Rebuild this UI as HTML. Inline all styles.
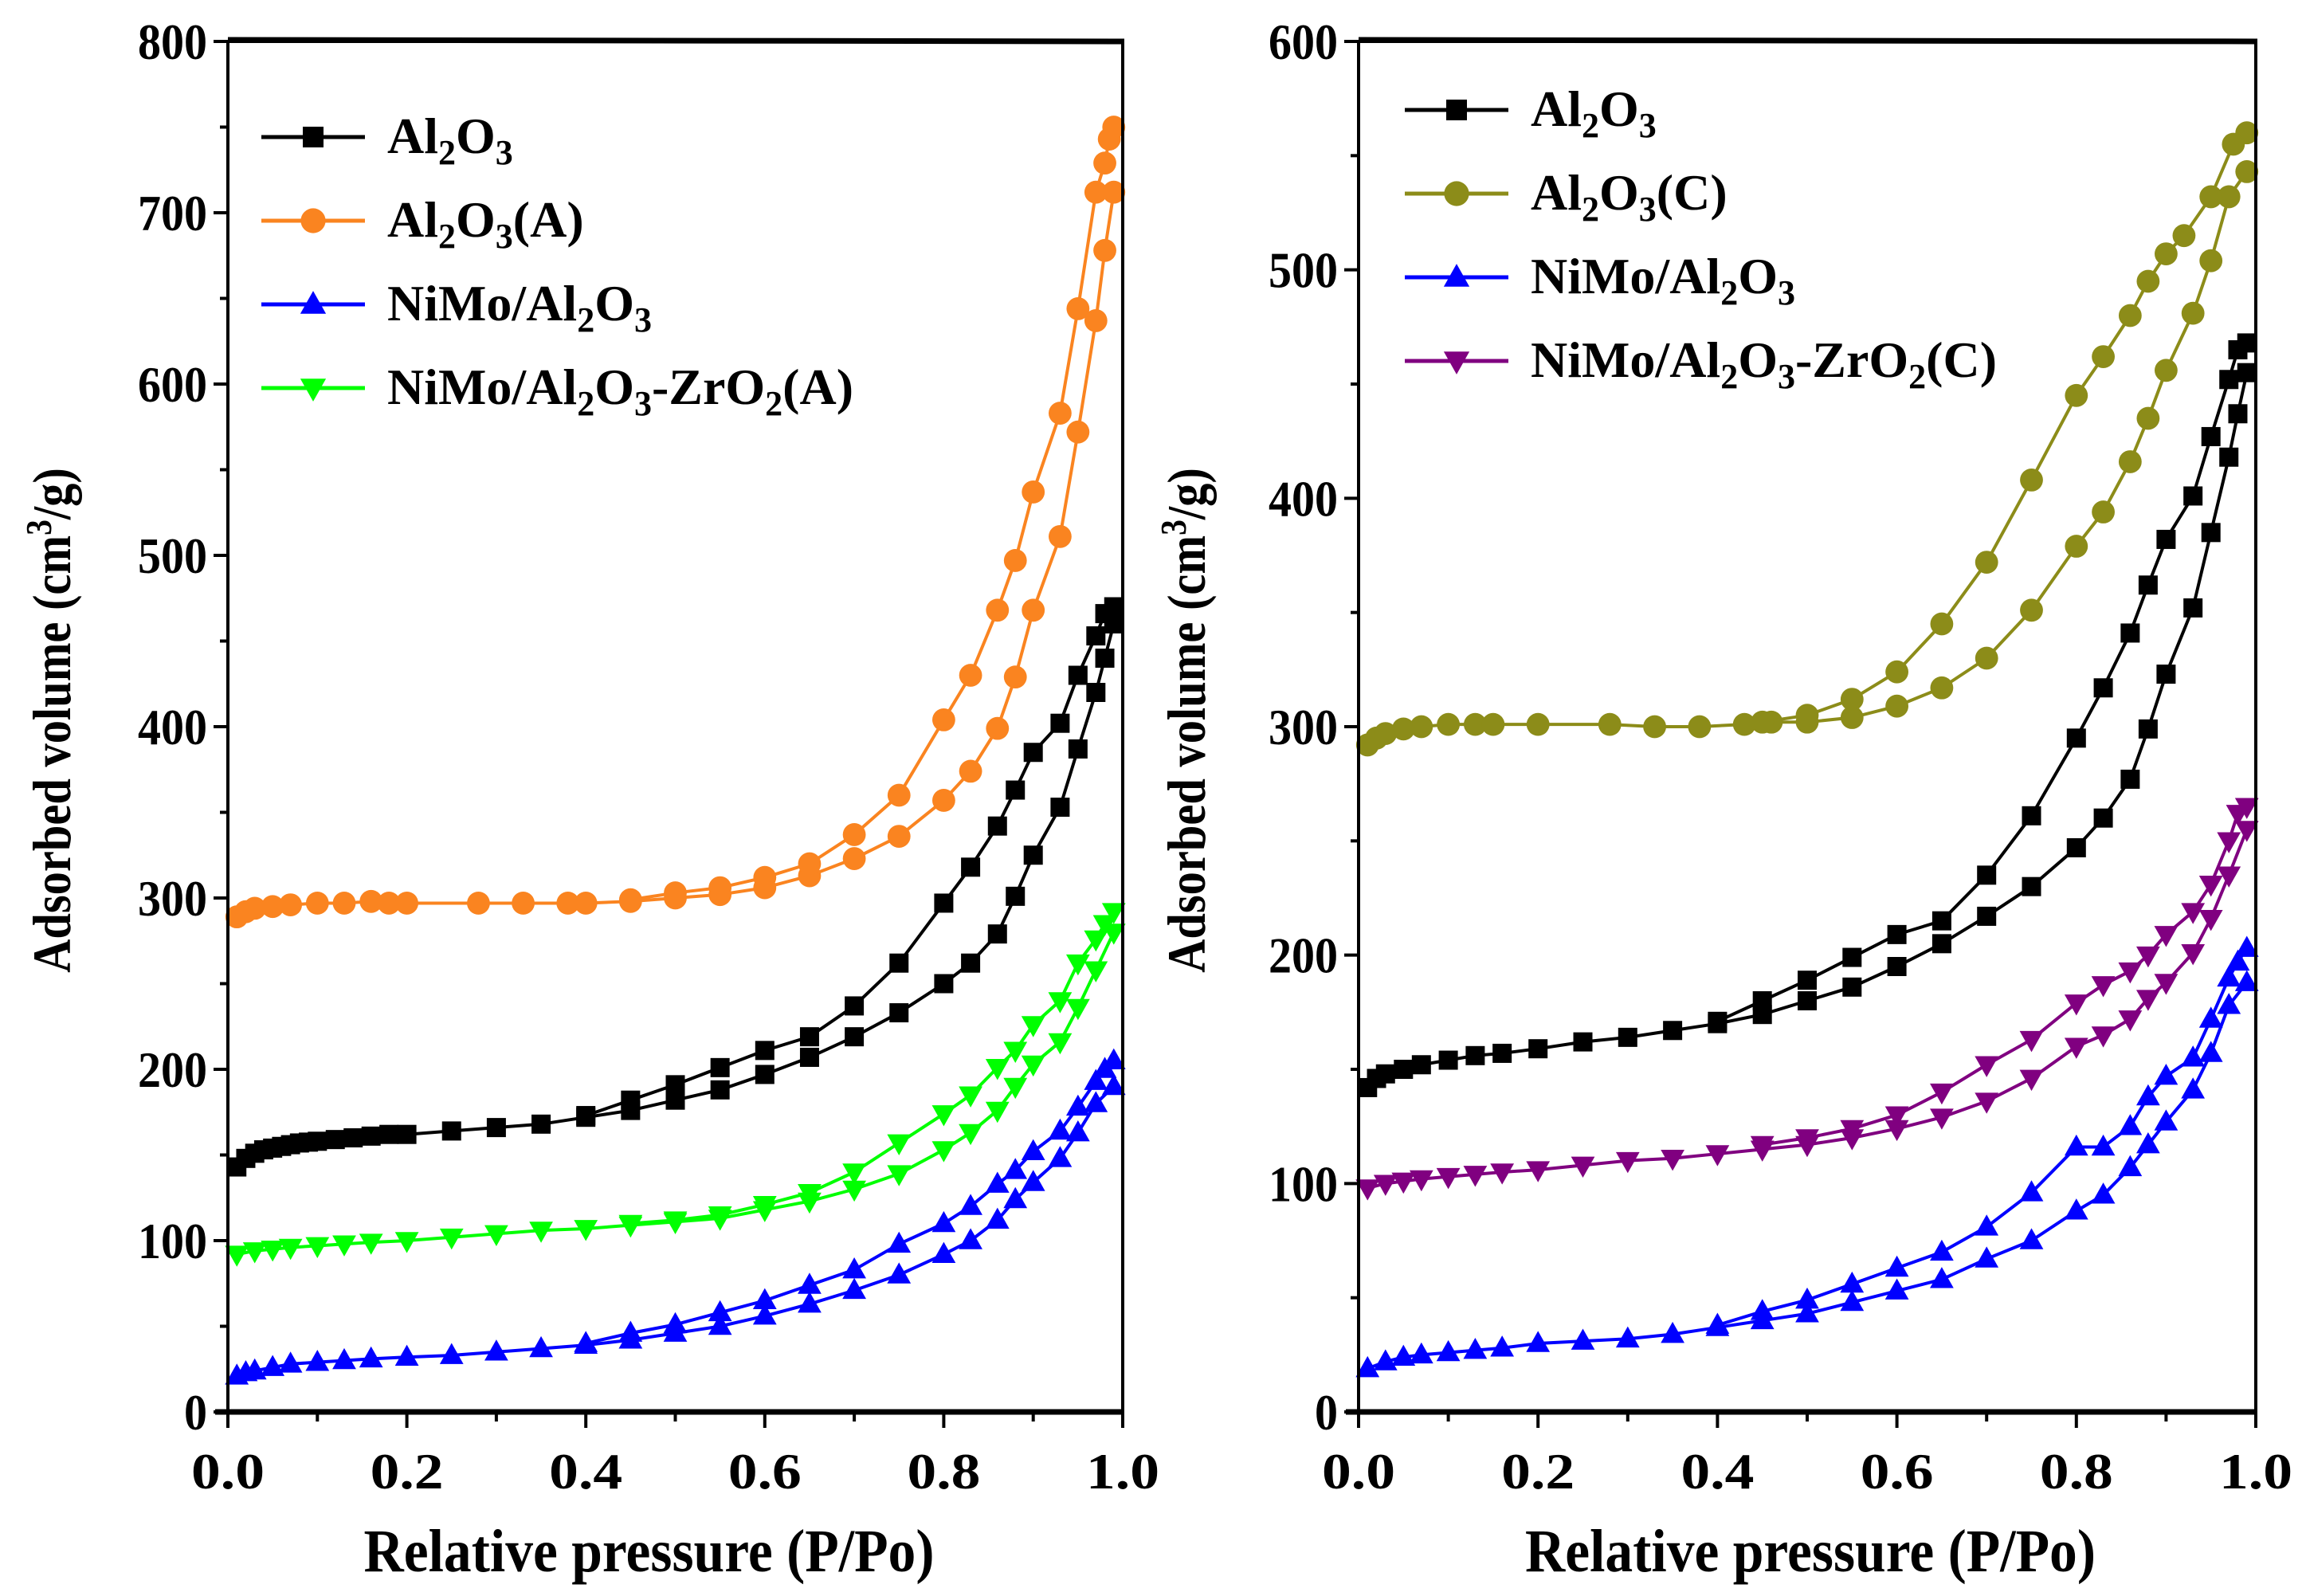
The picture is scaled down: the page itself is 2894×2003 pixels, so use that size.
<!DOCTYPE html>
<html><head><meta charset="utf-8">
<style>
html,body{margin:0;padding:0;background:#fff;}
svg{display:block;font-family:"Liberation Serif","DejaVu Serif",serif;font-weight:bold;}
</style></head>
<body>
<svg id="chart" width="2894" height="2003" viewBox="0 0 2894 2003" xmlns="http://www.w3.org/2000/svg"></svg>
<script>
// ---- Data: panel A ----
const aBlackAdsX=[0.01,0.02,0.03,0.04,0.05,0.06,0.07,0.08,0.09,0.1,0.12,0.14,0.16,0.18,0.2,0.25,0.3,0.35,0.4,0.45,0.5,0.55,0.6,0.65,0.7,0.75,0.8,0.83,0.86,0.88,0.9,0.93,0.95,0.97,0.98,0.99];
const aBlackAdsY=[143,148,151,153,154,155,156,157,157.5,158,159,160,161,162,162,164,166,168,172,176,182,188,197,207,219,233,250,262,279,301,325,353,387,420,440,460];
const aBlackDesX=[0.99,0.98,0.97,0.95,0.93,0.9,0.88,0.86,0.83,0.8,0.75,0.7,0.65,0.6,0.55,0.5,0.45,0.4];
const aBlackDesY=[470,466,453,430,402,385,363,342,318,297,262,237,219,211,201,191,182,173];
const aOrangeAdsX=[0.01,0.02,0.03,0.05,0.07,0.1,0.13,0.16,0.18,0.2,0.28,0.33,0.38,0.4,0.45,0.5,0.55,0.6,0.65,0.7,0.75,0.8,0.83,0.86,0.88,0.9,0.93,0.95,0.97,0.98,0.99];
const aOrangeAdsY=[289,292,294,295,296,297,297,298,297,297,297,297,297,297,298,300,302,306,313,323,336,357,374,399,429,468,511,572,637,678,712];
const aOrangeDesX=[0.99,0.985,0.98,0.97,0.95,0.93,0.9,0.88,0.86,0.83,0.8,0.75,0.7,0.65,0.6,0.55,0.5,0.45];
const aOrangeDesY=[750,743,729,712,644,583,537,497,468,430,404,360,337,320,312,306,303,299];
const aBlueAdsX=[0.01,0.02,0.03,0.05,0.07,0.1,0.13,0.16,0.2,0.25,0.3,0.35,0.4,0.45,0.5,0.55,0.6,0.65,0.7,0.75,0.8,0.83,0.86,0.88,0.9,0.93,0.95,0.97,0.99];
const aBlueAdsY=[21,23,24,26,28,29,30,31,32,33,35,37,39,42,46,50,56,63,71,80,92,100,112,124,134,148,163,180,190];
const aBlueDesX=[0.99,0.98,0.97,0.95,0.93,0.9,0.88,0.86,0.83,0.8,0.75,0.7,0.65,0.6,0.55,0.5,0.45,0.4];
const aBlueDesY=[205,200,193,178,164,152,141,133,120,110,98,83,74,65,58,51,46,40];
const aGreenAdsX=[0.01,0.03,0.05,0.07,0.1,0.13,0.16,0.2,0.25,0.3,0.35,0.4,0.45,0.5,0.55,0.6,0.65,0.7,0.75,0.8,0.83,0.86,0.88,0.9,0.93,0.95,0.97,0.99];
const aGreenAdsY=[92,94,95,96,97,98,99,100,102,104,106,107,109,111,113,118,123,130,139,153,163,176,190,203,216,236,258,280];
const aGreenDesX=[0.99,0.98,0.97,0.95,0.93,0.9,0.88,0.86,0.83,0.8,0.75,0.7,0.65,0.6,0.55,0.5,0.45];
const aGreenDesY=[292,285,276,262,240,226,211,201,185,174,157,140,128,121,115,112,110];
// ---- Data: panel B ----
const bBlackAdsX=[0.01,0.02,0.03,0.05,0.07,0.1,0.13,0.16,0.2,0.25,0.3,0.35,0.4,0.45,0.5,0.55,0.6,0.65,0.7,0.75,0.8,0.83,0.86,0.88,0.9,0.93,0.95,0.97,0.98,0.99];
const bBlackAdsY=[142,146,148,150,152,154,156,157,159,162,164,167,170,174,180,186,195,205,217,230,247,260,277,299,323,352,385,418,437,455];
const bBlackDesX=[0.99,0.98,0.97,0.95,0.93,0.9,0.88,0.86,0.83,0.8,0.75,0.7,0.65,0.6,0.55,0.5,0.45,0.4];
const bBlackDesY=[468,465,452,427,401,382,362,341,317,295,261,235,215,209,199,189,180,171];
const bOliveAdsX=[0.01,0.02,0.03,0.05,0.07,0.1,0.13,0.15,0.2,0.28,0.33,0.38,0.43,0.46,0.5,0.55,0.6,0.65,0.7,0.75,0.8,0.83,0.86,0.88,0.9,0.93,0.95,0.97,0.99];
const bOliveAdsY=[292,295,297,299,300,301,301,301,301,301,300,300,301,302,302,304,309,317,330,351,379,394,416,435,456,481,504,532,543];
const bOliveDesX=[0.99,0.975,0.95,0.92,0.9,0.88,0.86,0.83,0.8,0.75,0.7,0.65,0.6,0.55,0.5,0.45];
const bOliveDesY=[560,555,532,515,507,495,480,462,445,408,372,345,324,312,305,302];
const bBlueAdsX=[0.01,0.03,0.05,0.07,0.1,0.13,0.16,0.2,0.25,0.3,0.35,0.4,0.45,0.5,0.55,0.6,0.65,0.7,0.75,0.8,0.83,0.86,0.88,0.9,0.93,0.95,0.97,0.99];
const bBlueAdsY=[19,22,24,25,26,27,28,30,31,32,34,37,40,43,48,53,58,67,75,88,95,107,117,127,141,157,178,188];
const bBlueDesX=[0.99,0.98,0.97,0.95,0.93,0.9,0.88,0.86,0.83,0.8,0.75,0.7,0.65,0.6,0.55,0.5,0.45,0.4];
const bBlueDesY=[203,197,190,172,155,147,138,125,116,116,96,81,70,63,56,49,44,38];
const bPurpleAdsX=[0.01,0.03,0.05,0.07,0.1,0.13,0.16,0.2,0.25,0.3,0.35,0.4,0.45,0.5,0.55,0.6,0.65,0.7,0.75,0.8,0.83,0.86,0.88,0.9,0.93,0.95,0.97,0.99];
const bPurpleAdsY=[98,100,101,102,103,104,105,106,108,110,111,113,115,117,120,124,129,136,146,160,165,172,181,188,201,216,235,255];
const bPurpleDesX=[0.99,0.98,0.97,0.95,0.93,0.9,0.88,0.86,0.83,0.8,0.75,0.7,0.65,0.6,0.55,0.5,0.45];
const bPurpleDesY=[265,262,250,231,219,209,200,193,187,179,163,152,140,130,124,120,117];
const xTicks=["0.0","0.2","0.4","0.6","0.8","1.0"];
const aYTicks=["0","100","200","300","400","500","600","700","800"];
const bYTicks=["0","100","200","300","400","500","600"];

const NS="http://www.w3.org/2000/svg";
const svg=document.getElementById('chart');
function el(tag,attrs,parent){const e=document.createElementNS(NS,tag);for(const k in attrs)e.setAttribute(k,attrs[k]);(parent||svg).appendChild(e);return e;}

function marker(g,type,cx,cy,color,s){
  let m;
  if(type==='square') m=el('rect',{x:cx-s/2,y:cy-s/2,width:s,height:s,fill:color},g);
  else if(type==='circle') m=el('circle',{cx:cx,cy:cy,r:s*0.6,fill:color},g);
  else if(type==='up') m=el('polygon',{points:`${cx},${cy-s*0.65} ${cx-s*0.62},${cy+s*0.45} ${cx+s*0.62},${cy+s*0.45}`,fill:color},g);
  else m=el('polygon',{points:`${cx},${cy+s*0.65} ${cx-s*0.62},${cy-s*0.45} ${cx+s*0.62},${cy-s*0.45}`,fill:color},g);
  
  
}

function panel(id,L,R,T,B,ymax,yTicks,series,legendX,legendY0,legendStep,titleX,xTitleShift){
  const g=el('g',{});
  
  
  const sx=v=>L+v*(R-L), sy=v=>B-v/ymax*(B-T);
  series.forEach(s=>{
    const sg=el('g',{},g);
    
    
    [[s.ax,s.ay],[s.dx,s.dy]].forEach(([xs,ys])=>{
      const pts=xs.map((x,i)=>sx(x)+','+sy(ys[i])).join(' ');
      const pl=el('polyline',{points:pts,fill:'none',stroke:s.color,'stroke-width':4,'stroke-linejoin':'round'},sg);
      
      
      xs.forEach((x,i)=>marker(sg,s.m,sx(x),sy(ys[i]),s.color,24));
    });
  });
  const fr=el('rect',{x:L,y:T,width:R-L,height:B-T,fill:'none',stroke:'#000','stroke-width':4},g);
  
  
  el('line',{x1:L-16,y1:B,x2:R+2,y2:B,stroke:'#000','stroke-width':7},g);
  el('line',{x1:L,y1:T-2,x2:R+2,y2:T,stroke:'#000','stroke-width':7},g);
  for(let i=0;i<=10;i++){
    const x=sx(i/10), len=(i%2===0)?20:12;
    el('line',{x1:x,y1:B,x2:x,y2:B+len,stroke:'#000','stroke-width':4},g);
  }
  xTicks.forEach((t,i)=>{
    const tx=el('text',{x:sx(i*0.2),y:B+96,'text-anchor':'middle','font-size':64,textLength:92,lengthAdjust:'spacingAndGlyphs'},g);
    tx.textContent=t;
    
    
  });
  for(let v=0;v<=ymax;v+=50){
    const y=sy(v), len=(v%100===0)?18:10;
    el('line',{x1:L,y1:y,x2:L-len,y2:y,stroke:'#000','stroke-width':4},g);
  }
  yTicks.forEach(t=>{
    const ty=el('text',{x:L-26,y:sy(+t)+22,'text-anchor':'end','font-size':64,textLength:t.length*29,lengthAdjust:'spacingAndGlyphs'},g);
    ty.textContent=t;
    
    
  });
  const xt=el('text',{x:(L+R)/2+xTitleShift,y:1972,'text-anchor':'middle','font-size':76,textLength:716,lengthAdjust:'spacingAndGlyphs'},g);
  xt.textContent='Relative pressure (P/Po)';
  
  
  const yt=el('text',{x:0,y:0,'text-anchor':'middle','font-size':68,transform:`translate(${titleX},${(T+B)/2-8}) rotate(-90) scale(0.86,1)`},g);
  yt.innerHTML='Adsorbed volume (cm<tspan dy="-24" font-size="46">3</tspan><tspan dy="24">/g)</tspan>';
  
  
  series.forEach((s,i)=>{
    const y=legendY0+i*legendStep;
    const lg=el('g',{},g);
    
    
    el('line',{x1:legendX,y1:y,x2:legendX+130,y2:y,stroke:s.color,'stroke-width':5},lg);
    marker(lg,s.m,legendX+65,y,s.color,26);
    const t=el('text',{x:legendX+158,y:y+20,'font-size':64},lg);
    t.innerHTML=s.label;
  });
}
const sub=n=>`<tspan dy="14" font-size="44">${n}</tspan><tspan dy="-14">`;
const AL='Al'+sub(2)+'O'+sub(3);
const close='</tspan></tspan>';
panel('panel-a',286,1409,52,1772,800,aYTicks,[
  {key:'al2o3',color:'#000000',m:'square',ax:aBlackAdsX,ay:aBlackAdsY,dx:aBlackDesX,dy:aBlackDesY,label:AL+close},
  {key:'al2o3-a',color:'#fa8420',m:'circle',ax:aOrangeAdsX,ay:aOrangeAdsY,dx:aOrangeDesX,dy:aOrangeDesY,label:AL+'(A)'+close},
  {key:'nimo-al2o3',color:'#0000ff',m:'up',ax:aBlueAdsX,ay:aBlueAdsY,dx:aBlueDesX,dy:aBlueDesY,label:'NiMo/'+AL+close},
  {key:'nimo-al2o3-zro2-a',color:'#00ff00',m:'down',ax:aGreenAdsX,ay:aGreenAdsY,dx:aGreenDesX,dy:aGreenDesY,label:'NiMo/'+AL+'-ZrO'+sub(2)+'(A)'+close+close}
],328,172,105,88,-33);
panel('panel-b',1705,2831,52,1772,600,bYTicks,[
  {key:'al2o3',color:'#000000',m:'square',ax:bBlackAdsX,ay:bBlackAdsY,dx:bBlackDesX,dy:bBlackDesY,label:AL+close},
  {key:'al2o3-c',color:'#8c8c19',m:'circle',ax:bOliveAdsX,ay:bOliveAdsY,dx:bOliveDesX,dy:bOliveDesY,label:AL+'(C)'+close},
  {key:'nimo-al2o3',color:'#0000ff',m:'up',ax:bBlueAdsX,ay:bBlueAdsY,dx:bBlueDesX,dy:bBlueDesY,label:'NiMo/'+AL+close},
  {key:'nimo-al2o3-zro2-c',color:'#800080',m:'down',ax:bPurpleAdsX,ay:bPurpleAdsY,dx:bPurpleDesX,dy:bPurpleDesY,label:'NiMo/'+AL+'-ZrO'+sub(2)+'(C)'+close+close}
],1763,138,105,1512,4);
</script>
</body></html>
